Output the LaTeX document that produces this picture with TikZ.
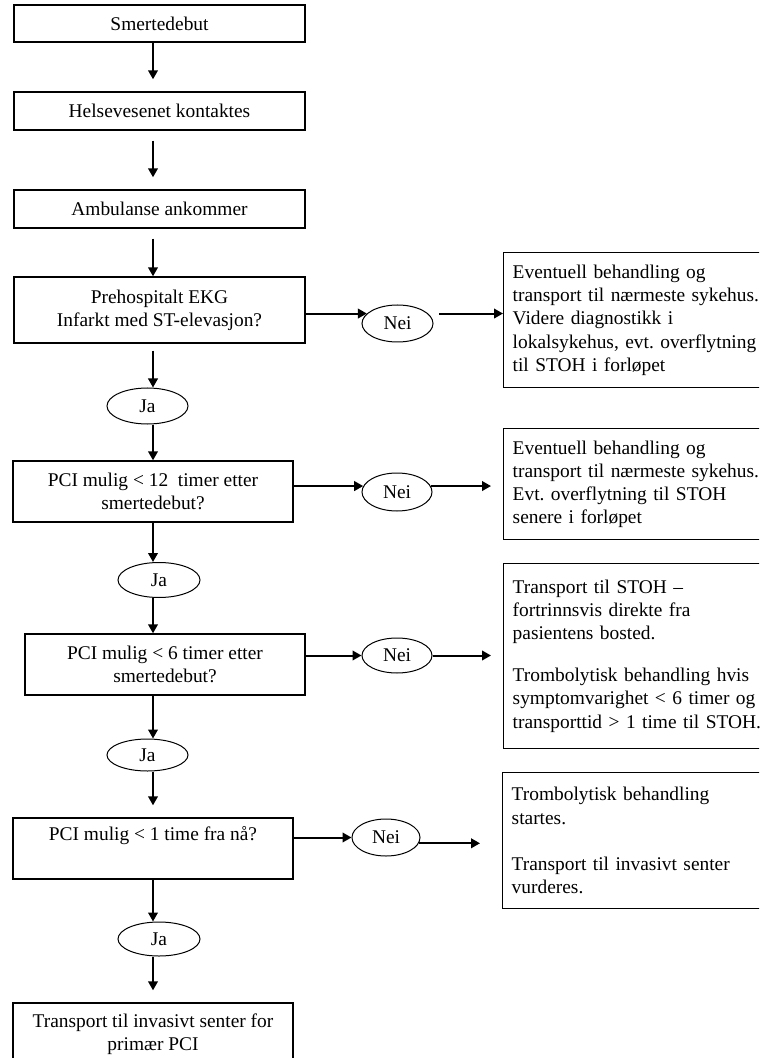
\documentclass[tikz,border=0pt]{standalone}
\usepackage{fontspec}
\setmainfont{Liberation Serif}
\usepackage{xcolor}
\usepackage{tikz}
\usetikzlibrary{calc,shapes.geometric,arrows.meta}
\frenchspacing

\begin{document}
\begin{tikzpicture}[x=0.5pt, y=-0.5pt,
        font=\fontsize{9.7}{11.6}\selectfont,
        box/.style={draw, line width=0.7pt, minimum width=145.5pt, align=center, inner sep=0pt},
        note/.style={draw, line width=0.7pt, anchor=north west, text width=135pt, align=left, inner xsep=4.5pt, inner ysep=2pt},
        answer/.style={draw, ellipse, line width=0.5pt, minimum width=35pt, minimum height=18pt, inner sep=0pt},
        arr/.style={line width=1pt, -{Triangle[length=4.5pt, width=4.8pt]}}]
        \useasboundingbox (0,0) rectangle (759,1058);
        \clip (0,0) rectangle (759,1058);
        \coordinate (spine) at (153,0);

        \node[box, minimum height=18.5pt] (start) at (159.5,23.5) {Smertedebut};
        \node[box, minimum height=19pt] (contact) at (159.5,111) {Helsevesenet kontaktes};
        \node[box, minimum height=19pt] (ambul) at (159.5,209) {Ambulanse ankommer};
        \node[box, minimum height=33pt] (ekg) at (159.5,310) {Prehospitalt EKG\\ Infarkt med ST-elevasjon?};
        \node[answer, minimum width=40.5pt] (ja1) at (147.5,406) {Ja};
        \node[box, minimum width=140pt, minimum height=30.5pt] (pci12) at (153,491.5) {PCI mulig < 12 \ timer etter\\ smertedebut?};
        \node[answer, minimum width=41pt, minimum height=17.5pt] (ja2) at (159,580) {Ja};
        \node[box, minimum width=140pt, minimum height=30.5pt] (pci6) at (165,664.5) {PCI mulig < 6 timer etter\\ smertedebut?};
        \node[answer, minimum width=40.5pt, minimum height=16pt] (ja3) at (147.5,755) {Ja};
        \node[box, minimum width=140pt, minimum height=30.5pt] (pci1) at (153,848.5) {PCI mulig < 1 time fra nå?\\ \strut};
        \node[answer, minimum width=41pt, minimum height=17pt] (ja4) at (159,939) {Ja};
        \node[box, minimum width=140pt, minimum height=31pt] (final) at (153,1034) {Transport til invasivt senter for\\ primær PCI};

        \node[answer, minimum width=35.5pt, minimum height=18.5pt] (nei1) at (397.5,323.5) {Nei};
        \node[answer, minimum height=19pt] (nei2) at (397,492) {Nei};
        \node[answer, minimum height=17.5pt] (nei3) at (397,655.5) {Nei};
        \node[answer, minimum width=34pt, minimum height=18.5pt] (nei4) at (386,837.5) {Nei};

        \node[note, minimum height=67.5pt] (r1) at (503,252) {Eventuell behandling og\\ transport til nærmeste sykehus.\\ Videre diagnostikk i\\ lokalsykehus, evt. overflytning\\ til STOH i forløpet};
        \node[note, minimum height=55.5pt] (r2) at (503,428) {Eventuell behandling og\\ transport til nærmeste sykehus.\\ Evt. overflytning til STOH\\ senere i forløpet};
        \node[note, minimum height=92.5pt] (r3) at (503,563) {Transport til STOH –\\ fortrinnsvis direkte fra\\ pasientens bosted.\\[0.8\baselineskip] Trombolytisk behandling hvis\\ symptomvarighet < 6 timer og\\ transporttid > 1 time til STOH.};
        \node[note, minimum height=68pt] (r4) at (502,772) {Trombolytisk behandling\\ startes.\\[\baselineskip] Transport til invasivt senter\\ vurderes.};

        \draw[arr, shorten >=6pt] (start.south -| spine) -- (contact.north -| spine);
        \draw[arr, shorten <=5pt, shorten >=6pt] (contact.south -| spine) -- (ambul.north -| spine);
        \draw[arr, shorten <=5pt] (ambul.south -| spine) -- (ekg.north -| spine);
        \draw[arr, shorten <=3.5pt] (ekg.south -| spine) -- (ja1.north -| spine);
        \draw[arr] (ja1.south -| spine) -- (pci12.north -| spine);
        \draw[arr] (pci12.south -| spine) -- (ja2.north -| spine);
        \draw[arr] (ja2.south -| spine) -- (pci6.north -| spine);
        \draw[arr] (pci6.south -| spine) -- (ja3.north -| spine);
        \draw[arr, shorten >=6pt] (ja3.south -| spine) -- (pci1.north -| spine);
        \draw[arr] (pci1.south -| spine) -- (ja4.north -| spine);
        \draw[arr, shorten >=6pt] (ja4.south -| spine) -- (final.north -| spine);

        \draw[arr] (ekg.east |- nei1.162) -- (nei1.162);
        \draw[arr, shorten <=5.5pt] (nei1.18) -- (r1.west |- nei1.18);
        \draw[arr] (pci12.east |- nei2.170) -- (nei2.170);
        \draw[arr, shorten >=6pt] (nei2.10) -- (r2.west |- nei2.10);
        \draw[arr] (pci6.east |- nei3.west) -- (nei3.west);
        \draw[arr, shorten >=6pt] (nei3.east) -- (r3.west |- nei3.east);
        \draw[arr] (pci1.east |- nei4.west) -- (nei4.west);
        \draw[arr, shorten >=11pt] (nei4.350) -- (r4.west |- nei4.350);
\end{tikzpicture}
\end{document}
